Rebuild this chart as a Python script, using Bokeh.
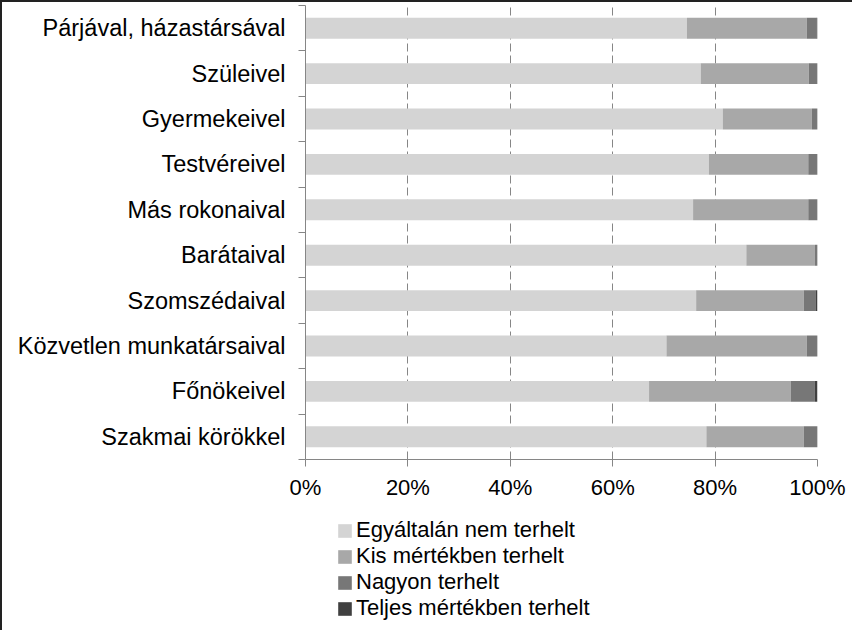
from bokeh.plotting import figure
from bokeh.layouts import column
from bokeh.models import Range1d, FixedTicker, Legend, LegendItem, ColumnDataSource
from bokeh.embed import file_html
from bokeh.resources import INLINE

categories = ["Párjával, házastársával", "Szüleivel", "Gyermekeivel", "Testvéreivel",
              "Más rokonaival", "Barátaival", "Szomszédaival", "Közvetlen munkatársaival",
              "Főnökeivel", "Szakmai körökkel"]
series_names = ["Egyáltalán nem terhelt", "Kis mértékben terhelt", "Nagyon terhelt",
                "Teljes mértékben terhelt"]
egyaltalan = [74.5, 77.2, 81.5, 78.8, 75.7, 86.1, 76.3, 70.5, 67.1, 78.3]
kis = [23.4, 21.1, 17.4, 19.4, 22.5, 13.4, 21.0, 27.4, 27.7, 19.0]
nagyon = [1.9, 1.6, 1.0, 1.7, 1.7, 0.4, 2.3, 2.0, 4.7, 2.6]
teljes = [0.2, 0.1, 0.1, 0.1, 0.1, 0.1, 0.4, 0.1, 0.5, 0.1]
x_ticks = [0, 20, 40, 60, 80, 100]
x_tick_labels = ["0%", "20%", "40%", "60%", "80%", "100%"]

colors = ["#d4d4d4", "#a8a8a8", "#777777", "#404040"]
FONT = "Liberation Sans"
LABEL_SIZE = "23.5px"
LEGEND_SIZE = "22px"

n = len(categories)
ypos = [n - i - 0.5 for i in range(n)]
src = ColumnDataSource(dict(y=ypos, s0=egyaltalan, s1=kis, s2=nagyon, s3=teljes))

p = figure(width=850, height=510, output_backend="svg", toolbar_location=None,
           x_range=Range1d(0, 100), y_range=Range1d(0, n),
           min_border_left=303, min_border_top=3, min_border_right=35, min_border_bottom=53)
p.outline_line_color = None

p.hbar_stack(["s0", "s1", "s2", "s3"], y="y", height=0.46, color=colors,
             line_color=None, source=src)

# grid
p.ygrid.grid_line_color = None
p.xgrid.ticker = FixedTicker(ticks=[20, 40, 60, 80, 100])
p.xgrid.grid_line_color = "#868686"
p.xgrid.grid_line_dash = "8 4"
p.xgrid.grid_line_width = 1
p.xgrid.level = "underlay"

# x axis
p.xaxis.ticker = FixedTicker(ticks=x_ticks)
p.xaxis.major_label_overrides = {t: l for t, l in zip(x_ticks, x_tick_labels)}
p.xaxis.axis_line_color = "#868686"
p.xaxis.major_tick_line_color = "#868686"
p.xaxis.major_tick_out = 7
p.xaxis.major_tick_in = 0
p.xaxis.minor_tick_line_color = None
p.xaxis.major_label_text_font = FONT
p.xaxis.major_label_text_font_size = "22px"
p.xaxis.major_label_text_color = "#000000"
p.xaxis.major_label_standoff = 8

# y axis: labels at centres, ticks at boundaries
p.yaxis.ticker = FixedTicker(ticks=ypos, minor_ticks=list(range(n + 1)))
p.yaxis.major_label_overrides = {y: c for y, c in zip(ypos, categories)}
p.yaxis.axis_line_color = "#868686"
p.yaxis.major_tick_line_color = None
p.yaxis.major_tick_out = 0
p.yaxis.minor_tick_line_color = "#868686"
p.yaxis.minor_tick_out = 7
p.yaxis.minor_tick_in = 0
p.yaxis.major_label_text_font = FONT
p.yaxis.major_label_text_font_size = LABEL_SIZE
p.yaxis.major_label_text_color = "#000000"
p.yaxis.major_label_standoff = 13

# legend figure (its bars lie outside its ranges, only the legend is seen)
pl = figure(width=850, height=118, output_backend="svg", toolbar_location=None,
            x_range=Range1d(200, 201), y_range=Range1d(200, 201),
            min_border_left=0, min_border_right=0, min_border_top=0, min_border_bottom=0)
pl.outline_line_color = None
pl.axis.visible = False
pl.grid.grid_line_color = None
leg_renderers = pl.hbar_stack(["s0", "s1", "s2", "s3"], y="y", height=0.5, color=colors,
                              line_color=None, source=src)
items = [LegendItem(label=name, renderers=[r]) for name, r in zip(series_names, leg_renderers)]
legend = Legend(items=items, location=(31, 9), orientation="vertical",
                label_text_font=FONT, label_text_font_size=LEGEND_SIZE, label_text_color="#000000",
                glyph_width=17, glyph_height=17, label_height=22, label_standoff=3,
                spacing=0, padding=0, margin=0, border_line_color=None,
                background_fill_alpha=0)
pl.add_layout(legend, "center")

layout = column(p, pl, spacing=0)
layout.styles = {"border-top": "2px solid #222", "border-left": "2px solid #222"}

open("out.html", "w").write(file_html(layout, INLINE))
